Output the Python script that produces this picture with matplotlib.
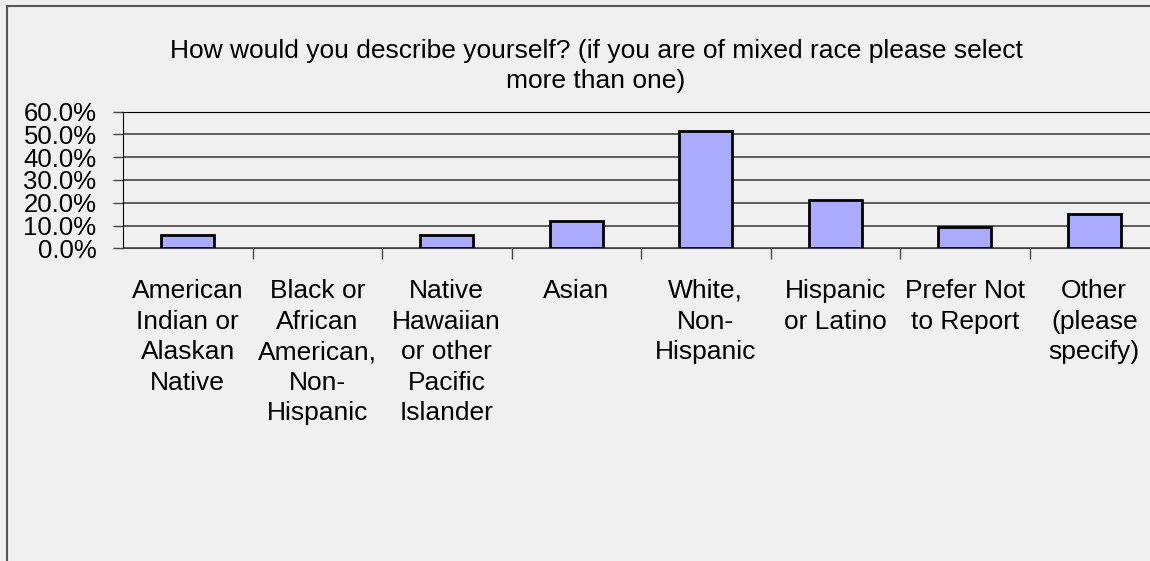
import numpy as np
import matplotlib.pyplot as plt
from matplotlib.patches import Rectangle

#---------------------- data ---------------------------
categories = ['American\nIndian or\nAlaskan\nNative',
              'Black or\nAfrican\nAmerican,\nNon-\nHispanic',
              'Native\nHawaiian\nor other\nPacific\nIslander',
              'Asian',
              'White,\nNon-\nHispanic',
              'Hispanic\nor Latino',
              'Prefer Not\nto Report',
              'Other\n(please\nspecify)']
shares = [5.8, 0.0, 5.9, 12.1, 51.5, 21.2, 9.2, 14.9]
y_ticks = [0, 10, 20, 30, 40, 50, 60]
title = 'How would you describe yourself? (if you are of mixed race please select\nmore than one)'

#---------------------- plotting ---------------------------
plt.rcParams['font.family'] = ['Liberation Sans', 'DejaVu Sans']
bg = '#f0f0f0'

fig = plt.figure(figsize=(11.5, 5.61), dpi=100, facecolor=bg)
# chart frame (left + top edges visible, rest cropped)
fig.patches.append(Rectangle((7/1150, -0.1), 1.2, 1 - 6/561 + 0.1, transform=fig.transFigure,
                             fill=False, edgecolor='#555555', linewidth=1.5))

ax = fig.add_axes([123/1150, 1 - 248.3/561, 1036/1150, 136.8/561])
ax.set_facecolor(bg)

x = np.arange(len(categories))
edge_w = [2 if v > 0 else 0 for v in shares]
ax.bar(x, shares, width=0.41, color='#aaaaff', edgecolor='black', linewidth=edge_w, zorder=3)

ax.set_xlim(-0.5, len(categories) - 0.5)
ax.set_ylim(0, 60)
ax.set_yticks(y_ticks)
ax.set_yticklabels([f'{v:.1f}%' for v in y_ticks], fontsize=18.5)
ax.yaxis.grid(True, color='#444444', linewidth=1.2, zorder=0)
ax.tick_params(axis='y', length=7, width=1, color='#444444', pad=12)

ax.set_xticks(x)
ax.set_xticklabels(categories, fontsize=19, linespacing=1.35)
ax.tick_params(axis='x', length=0, pad=22)
ax.set_xticks(np.arange(len(categories)) + 0.5, minor=True)
ax.tick_params(axis='x', which='minor', length=8, width=1, color='#444444')

ax.spines['right'].set_visible(False)
ax.spines['top'].set_color('black')
ax.spines['left'].set_color('black')
ax.spines['bottom'].set_color('#444444')

fig.text(596/1150, 1 - 66/561, title, ha='center', va='center', fontsize=19, linespacing=1.35)

plt.savefig('out.png', dpi=100, facecolor=bg)
